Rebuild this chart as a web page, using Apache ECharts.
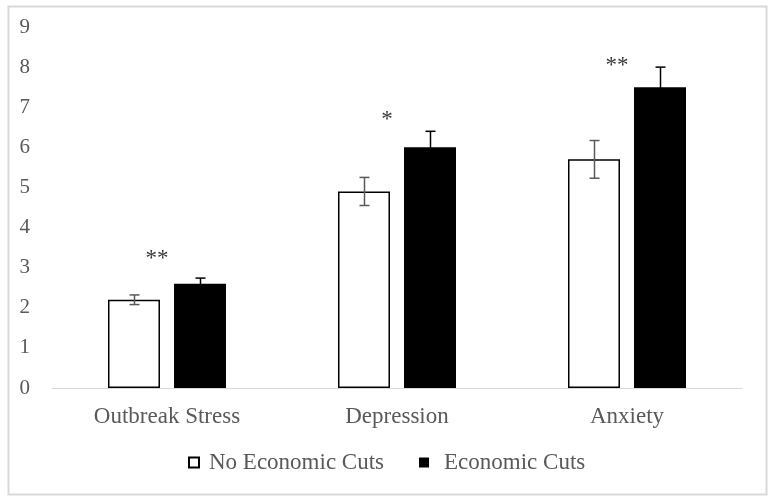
<!DOCTYPE html>
<html>
<head>
<meta charset="utf-8">
<script src="https://cdn.jsdelivr.net/npm/echarts@6/dist/echarts.min.js"></script>
<style>
html,body{margin:0;padding:0;background:#fff;}
#chart{width:771px;height:500px;}
</style>
</head>
<body>
<div id="chart"></div>
<script>
const categories = ['Outbreak Stress', 'Depression', 'Anxiety'];
const noCuts = [2.2, 4.9, 5.7];
const cuts = [2.6, 6.0, 7.5];
const noCutsErr = [0.12, 0.35, 0.47];
const cutsErr = [0.14, 0.4, 0.5];
const sigLabels = ['**', '*', '**'];
const sigY = [3.3, 6.75, 8.1];
const yTicks = [0, 1, 2, 3, 4, 5, 6, 7, 8, 9];

const FONT = '"Liberation Serif", "Times New Roman", serif';
const BAR_W = 0.226, GAP = 0.27;
const OFF = BAR_W * (1 + GAP) / 2;

function errSeries(vals, errs, side, color) {
  return {
    type: 'custom',
    z: 5,
    silent: true,
    data: vals.map((v, i) => [i, v, errs[i]]),
    encode: { x: 0, y: 1 },
    renderItem: function (params, api) {
      const i = api.value(0), v = api.value(1), e = api.value(2);
      const band = api.size([1, 0])[0];
      const c = api.coord([i, v]);
      const x = Math.round(c[0] + side * band * OFF) + 0.5;
      const yt = api.coord([i, v + e])[1];
      const yb = api.coord([i, v - e])[1];
      const hw = 5;
      const st = { stroke: color, lineWidth: 1.5 };
      return {
        type: 'group',
        children: [
          { type: 'line', shape: { x1: x, y1: yt, x2: x, y2: yb }, style: st },
          { type: 'line', shape: { x1: x - hw, y1: yt, x2: x + hw, y2: yt }, style: st },
          { type: 'line', shape: { x1: x - hw, y1: yb, x2: x + hw, y2: yb }, style: st }
        ]
      };
    }
  };
}

const chart = echarts.init(document.getElementById('chart'), null, { renderer: 'canvas' });
chart.setOption({
  animation: false,
  backgroundColor: '#fff',
  textStyle: { fontFamily: FONT },
  graphic: [{
    type: 'rect', left: 6, top: 4, z: -1,
    shape: { width: 758, height: 488 },
    style: { fill: 'none', stroke: '#d9d9d9', lineWidth: 2 }
  }],
  grid: { left: 52, right: 29, top: 27, bottom: 112, containLabel: false },
  legend: {
    bottom: 26,
    left: 188,
    padding: 0,
    data: [
      { name: 'No Economic Cuts', textStyle: { padding: [0, 0, 0, 5] } },
      { name: 'Economic Cuts', textStyle: { padding: [0, 0, 0, 10] } }
    ],
    icon: 'rect',
    itemWidth: 10,
    itemHeight: 10,
    itemGap: 35,
    textStyle: { fontFamily: FONT, fontSize: 23, color: '#595959' }
  },
  xAxis: {
    type: 'category',
    data: categories,
    axisLine: { lineStyle: { color: '#d9d9d9', width: 1 } },
    axisTick: { show: false },
    axisLabel: { margin: 17, fontFamily: FONT, fontSize: 23, color: '#595959' },
    splitLine: { show: false }
  },
  yAxis: {
    type: 'value',
    min: yTicks[0],
    max: yTicks[yTicks.length - 1],
    interval: 1,
    axisLine: { show: false },
    axisTick: { show: false },
    splitLine: { show: false },
    axisLabel: { margin: 22, fontFamily: FONT, fontSize: 21, color: '#595959' }
  },
  series: [
    {
      name: 'No Economic Cuts',
      type: 'bar',
      data: noCuts,
      barWidth: (BAR_W * 100) + '%',
      barGap: (GAP * 100) + '%',
      itemStyle: { color: '#ffffff', borderColor: '#000000', borderWidth: 1.5 }
    },
    {
      name: 'Economic Cuts',
      type: 'bar',
      data: cuts,
      barWidth: (BAR_W * 100) + '%',
      barGap: (GAP * 100) + '%',
      itemStyle: { color: '#000000', borderColor: '#000000', borderWidth: 0 }
    },
    errSeries(noCuts, noCutsErr, -1, '#595959'),
    errSeries(cuts, cutsErr, 1, '#000000'),
    {
      type: 'scatter',
      silent: true,
      symbolSize: 0,
      data: sigY.map((v, i) => [i, v]),
      label: {
        show: true,
        position: 'inside',
        offset: [-10, 3],
        formatter: p => sigLabels[p.dataIndex],
        fontFamily: FONT,
        fontSize: 23,
        color: '#000'
      }
    }
  ]
});
</script>
</body>
</html>
